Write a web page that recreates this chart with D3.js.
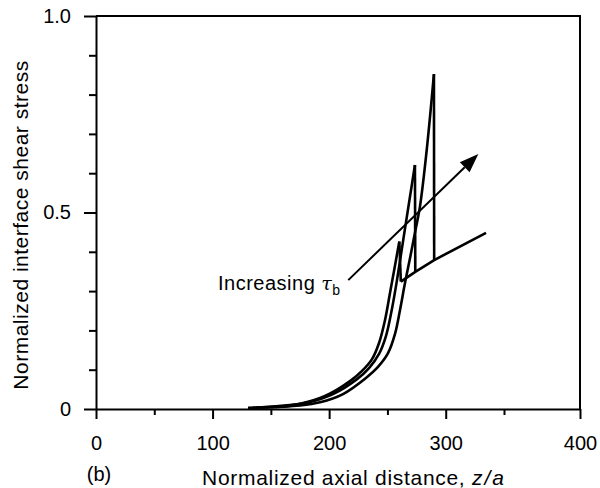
<!DOCTYPE html>
<html>
<head>
<meta charset="utf-8">
<script src="https://cdn.jsdelivr.net/npm/d3@7"></script>
<style>
  body { margin: 0; background: #fff; }
  text { font-family: "Liberation Sans", Arial, Helvetica, sans-serif; fill: #000; }
</style>
</head>
<body>
<div id="graph"></div>
<script>
// Tick values and labels
var xTickValues = [0, 50, 100, 150, 200, 250, 300, 350, 400]
var xTickLabels = {0: "0", 100: "100", 200: "200", 300: "300", 400: "400"}
var yTickValues = [0, 0.1, 0.2, 0.3, 0.4, 0.5, 0.6, 0.7, 0.8, 0.9, 1.0]
var yTickLabels = {0: "0", 0.5: "0.5", 1: "1.0"}

// Curves: [z/a, stress], rising part then the drop
var curveA = [[130.4, 0.003], [157.8, 0.006], [175.0, 0.013], [196.4, 0.033], [217.9, 0.071],
              [228.2, 0.097], [236.8, 0.127], [242.8, 0.168], [247.9, 0.226], [252.2, 0.295],
              [260.2, 0.426]]
var dropA = [[260.2, 0.426], [261.5, 0.324]]

var curveB = [[134.7, 0.003], [166.4, 0.010], [183.6, 0.018], [203.3, 0.038], [223.9, 0.076],
              [234.2, 0.104], [242.8, 0.140], [248.8, 0.186], [253.7, 0.252], [258.2, 0.328],
              [263.7, 0.433], [268.5, 0.524], [273.6, 0.621]]
var dropB = [[273.6, 0.621], [273.9, 0.349]]

var curveC = [[137.3, 0.003], [175.0, 0.009], [192.2, 0.017], [211.9, 0.038], [231.6, 0.079],
              [241.9, 0.107], [250.5, 0.142], [256.5, 0.191], [260.8, 0.252], [265.1, 0.321],
              [269.4, 0.384], [273.7, 0.450], [277.9, 0.515], [283.7, 0.659], [289.9, 0.852]]
var dropC = [[289.9, 0.852], [290.1, 0.379]]

// line joining the drop points
var tailLine = [[261.5, 0.324], [273.9, 0.349], [290.1, 0.379], [334.6, 0.448]]

// annotation arrow (data coords)
var arrowFrom = [216.4, 0.328],
    arrowTo = [328.0, 0.649]

var svg = d3.select("#graph").append("svg")
            .attr("width", 600)
            .attr("height", 488)

var margin = {top: 16, left: 96, bottom: 409, right: 580}

// x ticks in the figure are not evenly spaced at the end, so the scale has a knot at 350
var x = d3.scaleLinear()
          .domain([0, 350, 400])
          .range([margin.left, 504, margin.right]),
    y = d3.scaleLinear()
          .domain([0, 1])
          .range([margin.bottom, margin.top])

// Y axis
var yAxis = svg.append("g")
               .attr("transform", "translate(" + margin.left + ",0)")
               .call(d3.axisLeft(y)
                       .tickValues(yTickValues)
                       .tickSize(7)
                       .tickSizeOuter(0)
                       .tickPadding(18)
                       .tickFormat(function(d) { return yTickLabels[Math.round(d * 10) / 10] || "" }))
yAxis.selectAll(".tick line")
     .attr("x2", function(d) { return yTickLabels[Math.round(d * 10) / 10] ? -12 : -7 })
yAxis.selectAll(".tick text").attr("font-size", 20).attr("font-family", null)

// X axis
var xAxis = svg.append("g")
               .attr("transform", "translate(0," + margin.bottom + ")")
               .call(d3.axisBottom(x)
                       .tickValues(xTickValues)
                       .tickSize(6)
                       .tickSizeOuter(0)
                       .tickFormat(function(d) { return xTickLabels[d] || "" }))
xAxis.selectAll(".tick line")
     .attr("y2", function(d) { return xTickLabels[d] ? 10 : 6 })
xAxis.selectAll(".tick text")
     .attr("font-size", 20).attr("font-family", null)
     .attr("y", 41).attr("dy", null)

svg.selectAll(".domain, .tick line")
   .attr("stroke", "#000")
   .attr("stroke-width", 2)

// frame: top and right
svg.append("path")
   .attr("d", "M" + margin.left + "," + margin.top + "H" + margin.right + "V" + margin.bottom)
   .attr("fill", "none")
   .attr("stroke", "#000")
   .attr("stroke-width", 2)

// curves
var smooth = d3.line()
               .x(function(d) { return x(d[0]) })
               .y(function(d) { return y(d[1]) })
               .curve(d3.curveCatmullRom.alpha(0.5))
var straight = d3.line()
                 .x(function(d) { return x(d[0]) })
                 .y(function(d) { return y(d[1]) })

var curves = svg.append("g")
                .attr("fill", "none")
                .attr("stroke", "#000")
                .attr("stroke-width", 2.6)
                .attr("stroke-linejoin", "round")

;[curveA, curveB, curveC].forEach(function(c) {
    curves.append("path").attr("d", smooth(c))
})
;[dropA, dropB, dropC, tailLine].forEach(function(c) {
    curves.append("path").attr("d", straight(c))
})

// arrow
var ax0 = x(arrowFrom[0]), ay0 = y(arrowFrom[1]),
    ax1 = x(arrowTo[0]), ay1 = y(arrowTo[1])
var ang = Math.atan2(ay1 - ay0, ax1 - ax0),
    headLen = 19, headW = 7
var bx = ax1 - headLen * Math.cos(ang), by = ay1 - headLen * Math.sin(ang)
svg.append("line")
   .attr("x1", ax0).attr("y1", ay0)
   .attr("x2", bx).attr("y2", by)
   .attr("stroke", "#000")
   .attr("stroke-width", 2)
svg.append("path")
   .attr("d", "M" + ax1 + "," + ay1 +
              "L" + (bx + headW * Math.sin(ang)) + "," + (by - headW * Math.cos(ang)) +
              "L" + (bx - headW * Math.sin(ang)) + "," + (by + headW * Math.cos(ang)) + "Z")
   .attr("fill", "#000")

// annotation text
var note = svg.append("text")
              .attr("x", 218)
              .attr("y", 290)
              .attr("font-size", 20)
              .attr("letter-spacing", 0.5)
note.append("tspan").text("Increasing ")
note.append("tspan")
    .attr("font-family", "'DejaVu Serif', 'Liberation Serif', serif")
    .attr("font-style", "italic")
    .attr("font-size", 19)
    .text("τ")
note.append("tspan")
    .attr("font-size", 14)
    .attr("dy", 5)
    .text("b")

// axis titles
svg.append("text")
   .attr("transform", "translate(28,225) rotate(-90)")
   .attr("text-anchor", "middle")
   .attr("font-size", 21)
   .attr("letter-spacing", 0.5)
   .text("Normalized interface shear stress")

var xTitle = svg.append("text")
                .attr("x", 354)
                .attr("y", 485)
                .attr("text-anchor", "middle")
                .attr("font-size", 21)
                .attr("letter-spacing", 0.7)
xTitle.append("tspan").text("Normalized axial distance, ")
xTitle.append("tspan").attr("font-style", "italic").attr("letter-spacing", 2).text("z/a")

svg.append("text")
   .attr("x", 99)
   .attr("y", 481)
   .attr("text-anchor", "middle")
   .attr("font-size", 20)
   .text("(b)")
</script>
</body>
</html>
